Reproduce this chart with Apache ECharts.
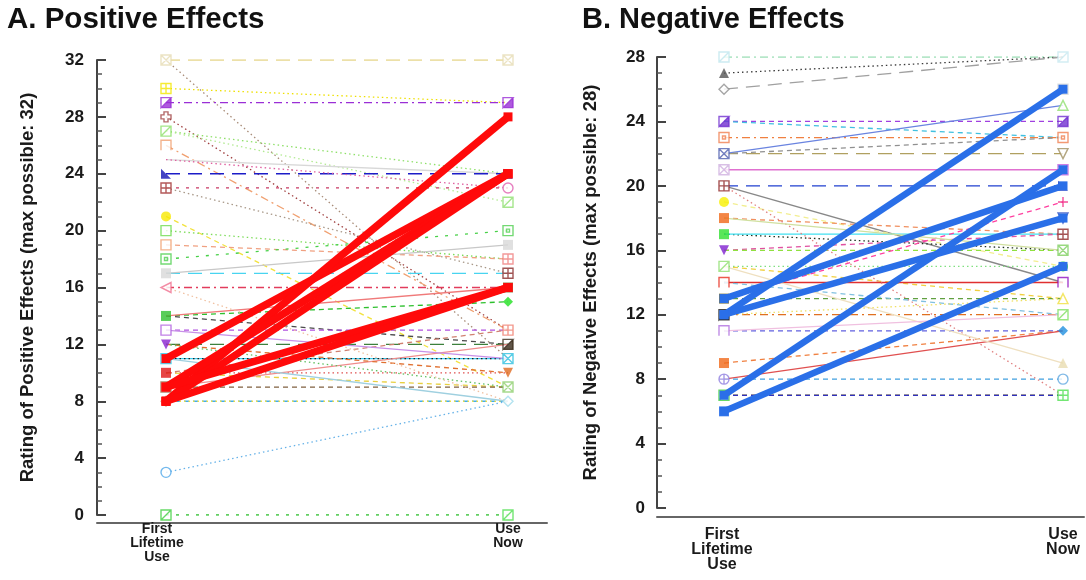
<!DOCTYPE html>
<html>
<head>
<meta charset="utf-8">
<script src="https://cdn.jsdelivr.net/npm/echarts@6/dist/echarts.min.js"></script>
<style>
  html, body { margin: 0; padding: 0; background: #fff; }
  #chart { width: 1086px; height: 580px; }
</style>
</head>
<body>
<div id="chart"></div>
<script>
// ---- data -------------------------------------------------------------
const stages = ['First\nLifetime\nUse', 'Use\nNow'];
const posTitle = 'A. Positive Effects';
const negTitle = 'B. Negative Effects';
const posAxisName = 'Rating of Positive Effects (max possible: 32)';
const negAxisName = 'Rating of Negative Effects (max possible: 28)';
const posMax = 32, posStep = 4;
const negMax = 28, negStep = 4;

// Positive effects: one line per participant (first lifetime use -> use now)
const posFirst = [32, 32, 30, 29, 28, 27, 27, 26, 25, 24, 23, 23, 21, 20, 19, 18, 17, 16, 14, 14,
                  13, 12, 11, 11, 10, 10, 9, 9, 8, 8, 3, 0, 14, 12, 11, 12, 10, 13, 16, 17, 25];
const posNow   = [32, 11, 29, 29, 13, 24, 22, 13, 24, 24, 23, 17, 9, 18, 18, 20, 17, 16, 15, 12,
                  13, 12, 11, 11, 10, 9, 9, 12, 8, 8, 8, 0, 16, 10, 8, 9, 13, 11, 8, 19, 23];
// highlighted participants
const posBoldFirst = [11, 8, 9, 8, 9, 8];
const posBoldNow   = [24, 28, 24, 24, 16, 16];
// end markers
const posLeftVals  = [32, 30, 29, 28, 27, 26, 25, 24, 23, 21, 20, 19, 18, 17, 16, 14, 13, 12, 11, 10, 9, 8, 3, 0];
const posRightVals = [32, 29, 24, 23, 22, 20, 19, 18, 17, 16, 15, 13, 12, 11, 10, 9, 8, 0];

// Negative effects
const negFirst = [28, 27, 26, 24, 24, 23, 22, 22, 21, 20, 20, 19, 18, 17, 17, 16, 16, 15, 15, 14,
                  13, 12, 11, 9, 8, 8, 7, 7, 20, 15, 14, 12, 13, 18, 22, 11];
const negNow   = [28, 28, 28, 24, 23, 23, 22, 25, 21, 20, 14, 15, 17, 16, 17, 17, 16, 13, 15, 14,
                  13, 12, 11, 11, 11, 8, 7, 7, 7, 9, 12, 13, 19, 16, 23, 12];
const negBoldFirst = [6, 7, 12, 13, 12];
const negBoldNow   = [15, 21, 26, 20, 18];
const negLeftVals  = [28, 27, 26, 24, 23, 22, 21, 20, 19, 18, 17, 16, 15, 14, 13, 12, 11, 9, 8, 7, 6];
const negRightVals = [28, 26, 25, 24, 23, 22, 21, 20, 19, 18, 17, 16, 15, 14, 13, 12, 11, 9, 8, 7];

// ---- styles -----------------------------------------------------------
const posColors = ['#e6d68c','#a88c78','#eee000','#9a2fd6','#a04040','#8fe06a','#b2ea92','#f0a070','#d8d8d8','#1c1cc8',
                   '#c83a64','#a89888','#f2e23c','#7ddc5a','#f0a080','#48d048','#48d4f0','#e23c5c','#2ec02e','#4a4a4a',
                   '#b050e0','#3c803c','#3ccdf0','#202020','#e05050','#e8d040','#806040','#f08c8c','#40acf0','#f0e040',
                   '#66b2e8','#30c030','#f07a7a','#e07030','#9fd0e0','#60c060','#d08070','#c890e8','#f0c0a0','#c8c8c8','#e060a0'];
const posDash = ['long','dot','dot','dashdot','dot','dot','dot','dashdot','solid','long',
                 'sparse','dot','dash','dot','dash','sparse','long','dashdot','dash','dash',
                 'dash','long','solid','dot','dot','dash','dash','solid','dash','dot',
                 'dot','sparse','solid','dash','solid','dot','dash','solid','dot','solid','dot'];
const posLeftMarks  = ['xsq','gsq','half','club','dsq','cap','bar','rtri','gsq','circ','osq','osq','ctr','sq','ltri','sq','osq','dtri','xsq','sq','ctr','odia','ocirc','dsq'];
const posLeftColors = ['#e6dcb4','#f2e600','#9a2fd6','#a04444','#8fe06a','#f0a070','#e0e0e0','#1414b4','#a03030','#f8e800',
                       '#70dc50','#f0a070','#50d050','#d8d8d8','#f07090','#30c030','#b060e0','#8a20d0','#30c8e8','#e01818',
                       '#9a7050','#c8b090','#50a8e8','#40d040'];
const posRightMarks  = ['xsq','half','rtri','ocirc','dsq','ctr','sq','gsq','gsq','sq','dia','gsq','half','xsq','dtri','xsq','odia','dsq'];
const posRightColors = ['#e6dcb4','#9a2fd6','#1414b4','#e060b0','#90e070','#50d050','#d8d8d8','#f08080','#8a2a2a','#7a6020',
                        '#20e020','#f08070','#3a2a1a','#30c0e0','#e06a20','#90d070','#a0dcec','#50e050'];

const negColors = ['#9fe0b8','#3a3a3a','#a0a0a0','#a040e0','#40c0e0','#f08040','#b0a060','#6a84e0','#e070d0','#2040d0',
                   '#888888','#f2ee90','#f09060','#1e2e1e','#40e0f0','#e050a0','#90e040','#f0d040','#80e080','#e03030',
                   '#60a040','#e07020','#6060e0','#f08040','#e05050','#40a0e0','#f0e000','#3030c0','#e08080','#efe0c0',
                   '#80c0e0','#f0e060','#ff40a0','#d0e0a0','#909090','#f0c0e0'];
const negDash = ['dashdot','dot','long','dash','dash','dashdot','long','solid','solid','long',
                 'solid','dash','dash','dot','solid','dash','dash','dash','dot','solid',
                 'dash','dashdot','dash','dash','solid','dash','dash','dash','dot','solid',
                 'dash','dot','dash','solid','dash','solid'];
const negLeftMarks  = ['dsq','tri','odia','half','ctr','xsq','xsq','gsq','circ','sq','sq','dtri','dsq','cap','sq','half','cap','sq','pcirc','dsq','sq'];
const negLeftColors = ['#bfe6ee','#555555','#909090','#7030d0','#f08050','#5060b0','#d0b0e0','#902828','#f8f000','#f06818',
                       '#30e030','#8020d0','#90e070','#e83020','#706010','#1a1a1a','#b070e0','#f06818','#9080e0','#40d040','#2a6fe8'];
const negRightMarks  = ['dsq','gsq','otri','half','ctr','odtri','xsq','rtri','plus','odtri','gsq','xsq','circ','cap','otri','dsq','dia','tri','ocirc','gsq'];
const negRightColors = ['#c8e8f0','#d8d8d8','#90e070','#7030d0','#f08050','#a09060','#c060e0','#1020b0','#f02080','#3050c0',
                        '#902828','#80d060','#20e020','#9010c0','#f0e040','#80e060','#2090e0','#e8dcb0','#60a8e0','#50e050'];

const posBoldColor = '#ff0a0a';
const negBoldColor = '#2a6fe8';
const FONT = '"Liberation Sans", Arial, sans-serif';

const DASH = {
  solid: 'solid', dot: [1.5, 3], dash: [5, 4], long: [14, 8],
  dashdot: [8, 4, 2, 4], sparse: [3, 7]
};

// marker glyphs: [symbol, filled]
const SQ = 'M0,0H10V10H0Z';
const SYMBOLS = {
  sq:    ['rect', true],
  osq:   ['path://' + SQ, false],
  gsq:   ['path://' + SQ + 'M5,0V10M0,5H10', false],
  xsq:   ['path://' + SQ + 'M0,0L10,10M10,0L0,10', false],
  dsq:   ['path://' + SQ + 'M0,10L10,0', false],
  ctr:   ['path://' + SQ + 'M3.5,3.5H6.5V6.5H3.5Z', false],
  half:  ['path://' + SQ + 'M0,0L0,10L10,0Z', true],
  rtri:  ['path://M0,0L0,10L10,10Z', true],
  dtri:  ['path://M0,0H10L5,10Z', true],
  odtri: ['path://M0,0H10L5,10Z', false],
  tri:   ['triangle', true],
  otri:  ['triangle', false],
  ltri:  ['path://M10,0V10L0,5Z', false],
  circ:  ['circle', true],
  ocirc: ['circle', false],
  dia:   ['diamond', true],
  odia:  ['diamond', false],
  cap:   ['path://M0,10V0H10V10', false],
  club:  ['path://M3,0H7V3H10V7H7V10H3V7H0V3H3Z', false],
  plus:  ['path://M5,0V10M0,5H10', false],
  bar:   ['path://M5,0V10', false],
  pcirc: ['path://M5,0A5,5 0 1,1 5,10A5,5 0 1,1 5,0ZM5,0V10M0,5H10', false]
};

// ---- series builders --------------------------------------------------
function thinLines(first, now, colors, dashes, idx) {
  return first.map((a, i) => ({
    type: 'line', xAxisIndex: idx, yAxisIndex: idx, silent: true, z: 2,
    symbol: 'none',
    data: [[0, a], [1, now[i]]],
    lineStyle: { color: colors[i], width: 1.3, type: DASH[dashes[i]] }
  }));
}
function boldLines(first, now, color, width, idx) {
  return first.map((a, i) => ({
    type: 'line', xAxisIndex: idx, yAxisIndex: idx, silent: true, z: 4,
    symbol: 'rect', symbolSize: 9,
    data: [[0, a], [1, now[i]]],
    itemStyle: { color: color },
    lineStyle: { color: color, width: width }
  }));
}
function markers(x, vals, marks, colors, idx) {
  return {
    type: 'scatter', xAxisIndex: idx, yAxisIndex: idx, silent: true, z: 3,
    symbolSize: 10,
    data: vals.map((v, i) => {
      const s = SYMBOLS[marks[i]];
      return {
        value: [x, v], symbol: s[0],
        itemStyle: {
          color: s[1] ? colors[i] : '#fff',
          borderColor: colors[i],
          borderWidth: s[1] && marks[i] !== 'half' ? 0 : 1.4
        }
      };
    })
  };
}

function yAxisCfg(idx, max, step, name, gap, margin) {
  return {
    gridIndex: idx, type: 'value', min: 0, max: max, interval: step,
    name: name, nameLocation: 'middle', nameGap: gap,
    nameTextStyle: { fontSize: 18.5, fontWeight: 'bold', color: '#1a1a1a', fontFamily: FONT },
    axisLine: { show: true, onZero: false, lineStyle: { color: '#444', width: 2 } },
    axisTick: { show: true, inside: true, length: 9, lineStyle: { color: '#444', width: 2 } },
    minorTick: { show: true, splitNumber: 4, length: 5, lineStyle: { color: '#555', width: 1.5 } },
    splitLine: { show: false },
    axisLabel: { margin: margin, fontSize: 17, fontWeight: 'bold', color: '#1a1a1a', fontFamily: FONT }
  };
}
function xAxisCfg(idx, min, max, offset, fs, lh, margin, shiftFirst) {
  return {
    gridIndex: idx, type: 'value', min: min, max: max, offset: offset,
    axisLine: { show: true, onZero: false, lineStyle: { color: '#666', width: 2 } },
    axisTick: { show: false },
    splitLine: { show: false },
    axisLabel: {
      customValues: [0, 1],
      formatter: v => {
        const lines = (v < 0.5 ? stages[0] : stages[1]).split('\n');
        const key = v < 0.5 ? 'a' : 'b';
        return lines.map(t => '{' + key + '|' + t + '}').join('\n');
      },
      rich: {
        a: { fontSize: fs, lineHeight: lh, fontWeight: 'bold', color: '#1a1a1a', fontFamily: FONT, padding: [0, shiftFirst, 0, 0] },
        b: { fontSize: fs, lineHeight: lh, fontWeight: 'bold', color: '#1a1a1a', fontFamily: FONT }
      },
      margin: margin, align: 'center'
    }
  };
}

const option = {
  animation: false,
  backgroundColor: '#fff',
  title: [
    { text: posTitle, left: 2, top: 0, textStyle: { fontSize: 29.5, fontWeight: 'bold', color: '#111', fontFamily: FONT } },
    { text: negTitle, left: 577, top: 0, textStyle: { fontSize: 29, fontWeight: 'bold', color: '#111', fontFamily: FONT } }
  ],
  grid: [
    { left: 97, top: 60, width: 450, height: 455, outerBoundsMode: 'none' },
    { left: 657, top: 57, width: 427, height: 451, outerBoundsMode: 'none' }
  ],
  xAxis: [
    xAxisCfg(0, -69 / 342, 1 + 39 / 342, 8, 14, 14, -1, 18),
    xAxisCfg(1, -67 / 339, 1 + 21 / 339, 9, 16, 15, 10, 4)
  ],
  yAxis: [
    yAxisCfg(0, posMax, posStep, posAxisName, 60, 13),
    yAxisCfg(1, negMax, negStep, negAxisName, 57, 12)
  ],
  series: [].concat(
    thinLines(posFirst, posNow, posColors, posDash, 0),
    [markers(0, posLeftVals, posLeftMarks, posLeftColors, 0),
     markers(1, posRightVals, posRightMarks, posRightColors, 0)],
    boldLines(posBoldFirst, posBoldNow, posBoldColor, 7.5, 0),
    thinLines(negFirst, negNow, negColors, negDash, 1),
    [markers(0, negLeftVals, negLeftMarks, negLeftColors, 1),
     markers(1, negRightVals, negRightMarks, negRightColors, 1)],
    boldLines(negBoldFirst, negBoldNow, negBoldColor, 6.5, 1)
  )
};

const chart = echarts.init(document.getElementById('chart'), null, { renderer: 'canvas' });
chart.setOption(option);
</script>
</body>
</html>
